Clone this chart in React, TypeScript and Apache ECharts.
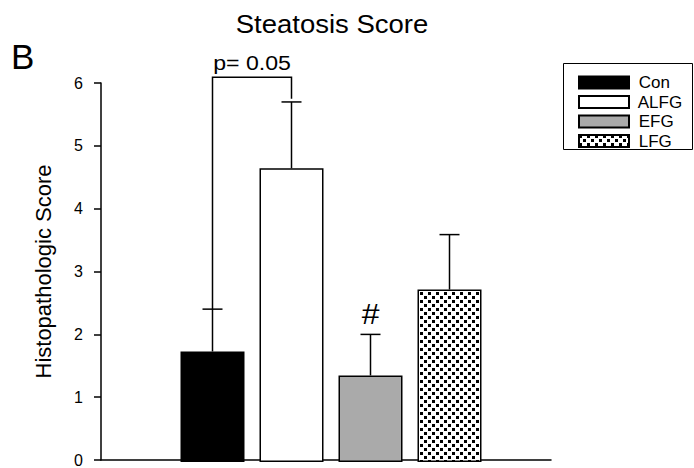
import React, { useEffect, useRef } from "react";
import * as echarts from "echarts";

const categories = ["Con", "ALFG", "EFG", "LFG"];
const means = [1.75, 4.65, 1.37, 2.73];
const errorsUp = [0.67, 1.05, 0.65, 0.87];
const fills = ["#000000", "#ffffff", "#aaaaaa", "pattern"];
const yMin = 0;
const yMax = 6;
const yInterval = 1;
const bracketFrom = 0;
const bracketTo = 1;
const bracketTop = 6.09;
const bracketRightEnd = 5.75;
const bracketLabel = "p= 0.05";
const markers = ["", "", "#", ""];

const FONT = "'Liberation Sans', Arial, Helvetica, sans-serif";

function makePattern(): HTMLCanvasElement {
  const c = document.createElement("canvas");
  c.width = 8;
  c.height = 8;
  const ctx = c.getContext("2d")!;
  ctx.fillStyle = "#ffffff";
  ctx.fillRect(0, 0, 8, 8);
  ctx.fillStyle = "#000000";
  ctx.fillRect(0, 0, 3, 3);
  ctx.fillRect(4, 4, 3, 3);
  return c;
}

export default function App() {
  const ref = useRef<HTMLDivElement>(null);
  useEffect(() => {
    if (!ref.current) return;
    const chart = echarts.init(ref.current, undefined, { renderer: "svg" });
    const pattern = { image: makePattern(), repeat: "repeat" };

    const barSeries = categories.map((name, i) => ({
      name,
      type: "bar",
      xAxisIndex: 1,
      yAxisIndex: 1,
      stack: "all",
      barWidth: 64,
      data: means.map((v, j) => (j === i ? v : "-")),
      itemStyle: {
        color: fills[i] === "pattern" ? pattern : fills[i],
        borderColor: "#000",
        borderWidth: 1.5,
      },
      z: 2,
    }));

    const errData = means.map((m, i) => [i, m, m + errorsUp[i]]);

    const option: any = {
      animation: false,
      textStyle: { fontFamily: FONT },
      grid: [
        { left: 101, right: 143, top: 83, bottom: 6 },
        { left: 173, right: 205, top: 83, bottom: 6 },
      ],
      xAxis: [
        {
          type: "value",
          gridIndex: 0,
          min: 0,
          max: 1,
          axisLine: { show: true, lineStyle: { color: "#000", width: 1.5 } },
          axisTick: { show: false },
          axisLabel: { show: false },
          splitLine: { show: false },
        },
        {
          type: "category",
          gridIndex: 1,
          data: categories,
          show: false,
        },
      ],
      yAxis: [
        {
          type: "value",
          gridIndex: 0,
          min: yMin,
          max: yMax,
          interval: yInterval,
          name: "Histopathologic Score",
          nameLocation: "middle",
          nameGap: 47,
          nameTextStyle: { fontSize: 22, color: "#000", fontFamily: FONT },
          axisLine: { show: true, lineStyle: { color: "#000", width: 1.5 } },
          axisTick: { show: true, inside: false, length: 7, lineStyle: { color: "#000", width: 1.5 } },
          axisLabel: { color: "#000", fontSize: 16, margin: 18, fontFamily: FONT },
          splitLine: { show: false },
        },
        {
          type: "value",
          gridIndex: 1,
          min: yMin,
          max: yMax,
          interval: yInterval,
          show: false,
        },
      ],
      legend: {
        orient: "vertical",
        left: 578,
        top: 74,
        padding: 0,
        itemWidth: 50,
        itemHeight: 12,
        itemGap: 2.5,
        icon: "rect",
        data: categories,
        formatter: (name: string) => " " + name,
        textStyle: { fontSize: 17, color: "#000", fontFamily: FONT, lineHeight: 16.5 },
      },
      graphic: [
        {
          type: "text",
          x: 332,
          y: 24,
          scaleX: 1.1,
          style: {
            text: "Steatosis Score",
            fontSize: 25,
            fill: "#000",
            fontFamily: FONT,
            align: "center",
            verticalAlign: "middle",
          },
        },
        {
          type: "text",
          x: 11,
          y: 56,
          style: {
            text: "B",
            fontSize: 35,
            fill: "#000",
            fontFamily: FONT,
            align: "left",
            verticalAlign: "middle",
          },
        },
        {
          type: "rect",
          shape: { x: 563.5, y: 63.5, width: 129, height: 86 },
          style: { fill: "none", stroke: "#000", lineWidth: 1 },
        },
      ],
      series: [
        ...barSeries,
        {
          type: "custom",
          xAxisIndex: 1,
          yAxisIndex: 1,
          clip: false,
          z: 3,
          data: errData,
          encode: { x: 0, y: [1, 2] },
          renderItem: (params: any, api: any) => {
            const i = api.value(0);
            const p0 = api.coord([i, api.value(1)]);
            const p1 = api.coord([i, api.value(2)]);
            const half = 10;
            const ls = { stroke: "#000", lineWidth: 1.5 };
            const children: any[] = [
              { type: "line", shape: { x1: p0[0], y1: p0[1], x2: p1[0], y2: p1[1] }, style: ls },
              { type: "line", shape: { x1: p1[0] - half, y1: p1[1], x2: p1[0] + half, y2: p1[1] }, style: ls },
            ];
            const mk = markers[i];
            if (mk) {
              children.push({
                type: "text",
                x: p1[0],
                y: p1[1] - 6,
                scaleX: 1.1,
                style: {
                  text: mk,
                  fontSize: 29,
                  fill: "#000",
                  fontFamily: FONT,
                  align: "center",
                  verticalAlign: "bottom",
                },
              });
            }
            return { type: "group", children };
          },
        },
        {
          type: "custom",
          xAxisIndex: 1,
          yAxisIndex: 1,
          clip: false,
          z: 3,
          data: [[bracketFrom, means[bracketFrom] + errorsUp[bracketFrom], bracketTo, bracketRightEnd, bracketTop]],
          renderItem: (params: any, api: any) => {
            const a = api.coord([api.value(0), api.value(1)]);
            const b = api.coord([api.value(2), api.value(3)]);
            const t = api.coord([api.value(0), api.value(4)]);
            const ls = { stroke: "#000", lineWidth: 1.5 };
            return {
              type: "group",
              children: [
                { type: "polyline", shape: { points: [[a[0], a[1]], [a[0], t[1]], [b[0], t[1]], [b[0], b[1]]] }, style: { ...ls, fill: "none" } },
                {
                  type: "text",
                  x: (a[0] + b[0]) / 2,
                  y: t[1] - 4,
                  scaleX: 1.1,
                  style: {
                    text: bracketLabel,
                    fontSize: 21,
                    fill: "#000",
                    fontFamily: FONT,
                    align: "center",
                    verticalAlign: "bottom",
                  },
                },
              ],
            };
          },
        },
      ],
    };
    chart.setOption(option);
    return () => chart.dispose();
  }, []);
  return (
    <div
      ref={ref}
      style={{ position: "absolute", left: 0, top: 0, width: 694, height: 468, background: "#fff" }}
    />
  );
}
